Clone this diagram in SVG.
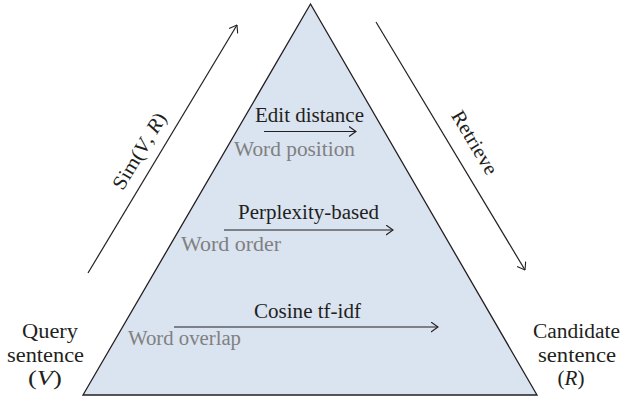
<svg xmlns="http://www.w3.org/2000/svg" width="631" height="398" viewBox="0 0 631 398">
<style>
.t{font-family:"Liberation Serif","Times New Roman",serif;font-size:20px;fill:#231f20}
.g{font-family:"Liberation Serif","Times New Roman",serif;font-size:20px;fill:#808080}
.ln{stroke:#231f20;stroke-width:1.2;fill:none}
.tri{fill:#dae3f0;stroke:#231f20;stroke-width:1.3}
</style>
<defs>
<marker id="ah" viewBox="0 0 8 11" refX="7.5" refY="5.5" markerWidth="8" markerHeight="11" markerUnits="userSpaceOnUse" orient="auto">
<path d="M0.5,0.5 L7.5,5.5 L0.5,10.5" fill="none" stroke="#231f20" stroke-width="1.1"/>
</marker>
</defs>
<g id="pyramid">
<polygon class="tri" points="310.5,4 83,395 537,395"/>
</g>
<g id="connectors">
<line class="ln" x1="88" y1="273" x2="237" y2="25" marker-end="url(#ah)"/>
<line class="ln" x1="376" y1="22" x2="525" y2="270" marker-end="url(#ah)"/>
<line class="ln" x1="264" y1="131.5" x2="356" y2="131.5" marker-end="url(#ah)"/>
<line class="ln" x1="224" y1="230" x2="393" y2="230" marker-end="url(#ah)"/>
<line class="ln" x1="174" y1="327" x2="438" y2="327" marker-end="url(#ah)"/>
</g>
<g id="sim-label">
<text class="t" transform="translate(145,154.5) rotate(-59)" text-anchor="middle" textLength="86" lengthAdjust="spacingAndGlyphs">Sim(<tspan font-style="italic">V</tspan>, <tspan font-style="italic">R</tspan>)</text>
</g>
<g id="retrieve-label">
<text class="t" transform="translate(469,146) rotate(59)" text-anchor="middle" textLength="71" lengthAdjust="spacingAndGlyphs">Retrieve</text>
</g>
<g id="edit-distance">
<text class="t" x="255" y="122" textLength="109" lengthAdjust="spacingAndGlyphs">Edit distance</text>
<text class="g" x="234" y="156" textLength="121" lengthAdjust="spacingAndGlyphs">Word position</text>
</g>
<g id="perplexity">
<text class="t" x="238" y="219" textLength="141" lengthAdjust="spacingAndGlyphs">Perplexity-based</text>
<text class="g" x="181" y="251" textLength="100" lengthAdjust="spacingAndGlyphs">Word order</text>
</g>
<g id="cosine">
<text class="t" x="254" y="318" textLength="107" lengthAdjust="spacingAndGlyphs">Cosine tf-idf</text>
<text class="g" x="128" y="345" textLength="113" lengthAdjust="spacingAndGlyphs">Word overlap</text>
</g>
<g id="query">
<text class="t" x="50" y="338" text-anchor="middle" textLength="56" lengthAdjust="spacingAndGlyphs">Query</text>
<text class="t" x="45.5" y="362" text-anchor="middle" textLength="77" lengthAdjust="spacingAndGlyphs">sentence</text>
<text class="t" x="45" y="385" text-anchor="middle" textLength="34" lengthAdjust="spacingAndGlyphs">(<tspan font-style="italic">V</tspan>)</text>
</g>
<g id="candidate">
<text class="t" x="576.5" y="338" text-anchor="middle" textLength="87" lengthAdjust="spacingAndGlyphs">Candidate</text>
<text class="t" x="577" y="362" text-anchor="middle" textLength="78" lengthAdjust="spacingAndGlyphs">sentence</text>
<text class="t" x="571" y="385" text-anchor="middle" textLength="27" lengthAdjust="spacingAndGlyphs">(<tspan font-style="italic">R</tspan>)</text>
</g>
</svg>
